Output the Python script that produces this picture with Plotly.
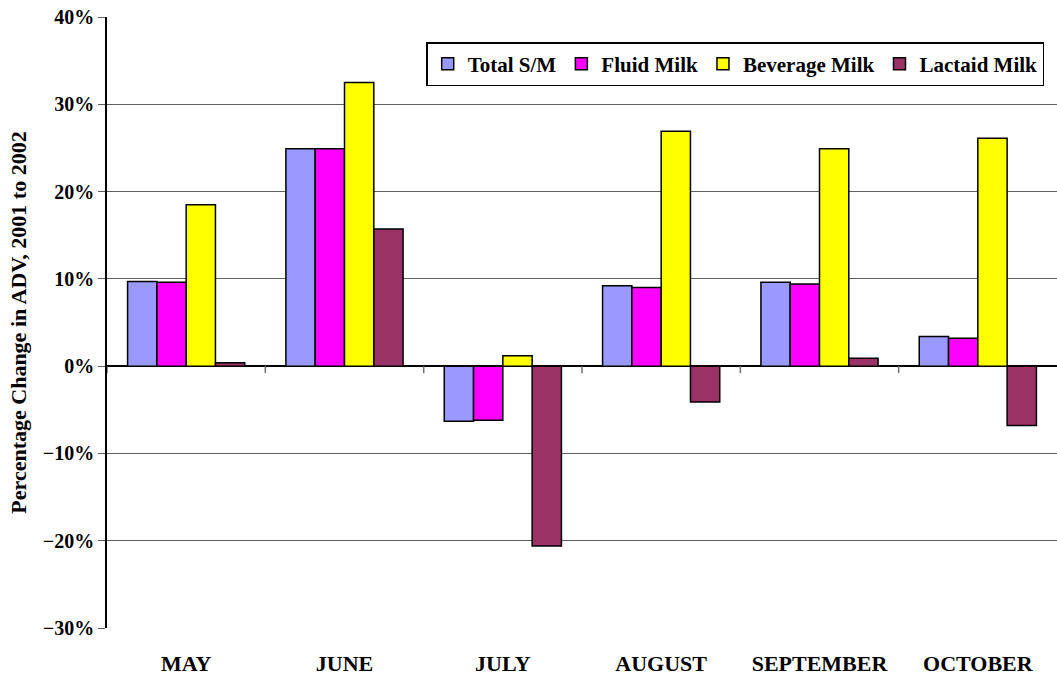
import plotly.graph_objects as go

# Monthly percentage change in ADV, 2001 to 2002
months = ["MAY", "JUNE", "JULY", "AUGUST", "SEPTEMBER", "OCTOBER"]
total_sm = [9.7, 24.9, -6.3, 9.2, 9.6, 3.4]
fluid_milk = [9.6, 24.9, -6.2, 9.0, 9.4, 3.2]
beverage_milk = [18.5, 32.5, 1.2, 26.9, 24.9, 26.1]
lactaid_milk = [0.4, 15.7, -20.6, -4.1, 0.9, -6.8]

series = [
    ("Total S/M", total_sm, "#9999FF"),
    ("Fluid Milk", fluid_milk, "#FF00FF"),
    ("Beverage Milk", beverage_milk, "#FFFF00"),
    ("Lactaid Milk", lactaid_milk, "#993366"),
]

FONT = "Times New Roman"

fig = go.Figure()
for name, vals, color in series:
    fig.add_trace(go.Bar(
        x=months, y=vals, name="<b>" + name + "</b>",
        marker=dict(color=color, line=dict(color="black", width=1.5)),
    ))

# small tick marks on the zero line between month groups
for i in range(len(months)):
    fig.add_shape(type="line", xref="x", yref="y",
                  x0=i - 0.5, x1=i - 0.5, y0=0, y1=-0.8,
                  line=dict(color="#707070", width=1.5))

fig.update_layout(
    width=1057, height=677,
    margin=dict(l=107, r=0, t=17, b=49),
    paper_bgcolor="white", plot_bgcolor="white",
    barmode="group", bargap=0.26, bargroupgap=0,
    font=dict(family=FONT, color="black"),
    legend=dict(
        orientation="h", x=0.336, y=0.959, xanchor="left", yanchor="top",
        bordercolor="black", borderwidth=1.5,
        font=dict(family=FONT, size=21, color="black"),
        itemwidth=30, traceorder="normal",
    ),
)
fig.update_xaxes(
    range=[-0.5, 5.5], showgrid=False, showline=False, ticks="",
    tickfont=dict(family=FONT, size=22, weight="bold", color="black"),
    ticklabelstandoff=20,
)
fig.update_yaxes(
    range=[-30, 40], dtick=10, ticksuffix="%",
    showgrid=True, gridcolor="#606060", gridwidth=1,
    zeroline=True, zerolinecolor="black", zerolinewidth=1.5,
    showline=True, linecolor="black", linewidth=1.5,
    ticks="outside", ticklen=7, tickcolor="#606060",
    tickfont=dict(family=FONT, size=20, weight="bold", color="black"),
    title=dict(text="<b>Percentage Change in ADV, 2001 to 2002</b>",
               font=dict(family=FONT, size=22, color="black"),
               standoff=10),
)

fig.write_html("out.html")
